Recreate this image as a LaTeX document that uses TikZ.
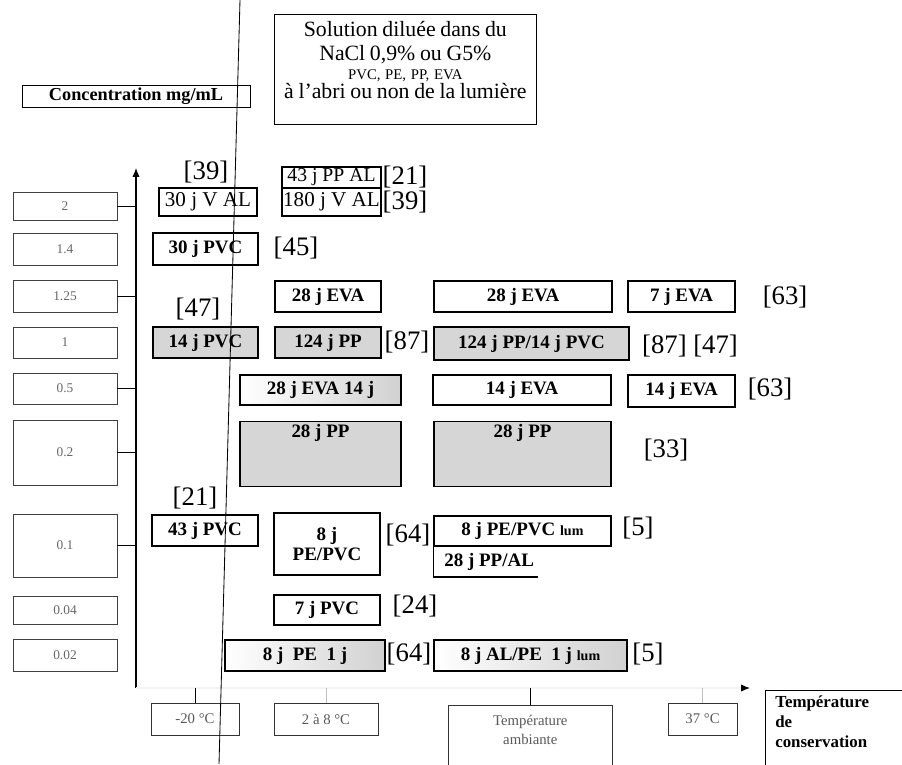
\documentclass[tikz,border=0pt]{standalone}
\usepackage{fontspec}
\setmainfont{Liberation Serif}
\usetikzlibrary{arrows.meta}

\begin{document}
\begin{tikzpicture}[x=0.025cm, y=-0.025cm,
    valbox/.style={draw=black!75, thin, inner sep=0pt, minimum width=2.6cm, text=black!60, font=\fontsize{9.5}{10}\selectfont},
    databox/.style={draw, line width=0.9pt, inner sep=0pt, font=\fontsize{13.5}{14}\selectfont\bfseries},
    plainbox/.style={databox, font=\fontsize{15}{15}\selectfont},
    shaded/.style={fill=black!16},
    halfshaded/.style={left color=white, middle color=white, right color=black!18},
    ref/.style={inner sep=0pt, font=\fontsize{19}{19}\selectfont},
    tempbox/.style={draw=black!80, thin, inner sep=0pt, text=black!65, font=\fontsize{10.5}{13.5}\selectfont},
    axis/.style={-{Latex[length=2.2mm, width=1.8mm, color=black]}, thick}
  ]
  \useasboundingbox (0,0) rectangle (902,764);
  \clip (0,0) rectangle (902,764);

  % Titles
  \node[draw, thin, minimum width=5.7cm, minimum height=0.55cm, inner sep=0pt,
        font=\fontsize{13}{13}\selectfont\bfseries] (conc) at (136,96) {Concentration mg/mL};
  \node[draw, thin, anchor=north west, text width=6.45cm, align=center, inner xsep=0.05cm,
        inner ysep=0pt, text height=0.55cm, text depth=2.2cm] (sol) at (274,14)
        {\fontsize{15.5}{17}\selectfont Solution diluée dans du\\
         NaCl 0,9\% ou G5\%\\[-3.5pt]
         {\fontsize{10.5}{11}\selectfont PVC, PE, PP, EVA}\\
         à l'abri ou non de la lumière};

  % Concentrations
  \node[valbox, minimum height=0.7cm] (c2) at (65,206) {2};
  \node[valbox, minimum height=0.8cm] (c14) at (65,249) {1.4};
  \node[valbox, minimum height=0.8cm] (c125) at (65,296) {1.25};
  \node[valbox, minimum height=0.78cm] (c1) at (65,342.5) {1};
  \node[valbox, minimum height=0.78cm] (c05) at (65,388.5) {0.5};
  \node[valbox, minimum height=1.63cm] (c02) at (65,452.5) {0.2};
  \node[valbox, minimum height=1.58cm] (c01) at (65,545.5) {0.1};
  \node[valbox, minimum height=0.7cm] (c004) at (65,610) {0.04};
  \node[valbox, minimum height=0.8cm] (c002) at (65,655) {0.02};

  % Axes
  \coordinate (ytop) at (136,168);
  \coordinate (orig) at (136,688);
  \coordinate (xend) at (750,688);
  \draw[axis] (orig) -- (ytop);
  \draw[axis, draw=black!5] (orig) -- (xend);
  \foreach \c in {c2,c125,c05,c02,c01}
    \draw (\c.east) -- (\c.east -| orig);

  % Stabilities
  \node[plainbox, minimum width=2.45cm, minimum height=0.7cm] (v30) at (208,202) {30 j V AL};
  \node[plainbox, minimum width=2.475cm, minimum height=0.525cm, font=\fontsize{14}{14}\selectfont] (ppal43) at (331.5,177.5) {43 j PP AL};
  \node[plainbox, minimum width=2.475cm, minimum height=0.7cm] (v180) at (331.5,202) {180 j V AL};
  \node[databox, minimum width=2.625cm, minimum height=0.8cm] (pvc30) at (205.5,249) {30 j PVC};
  \node[databox, minimum width=2.65cm, minimum height=0.775cm] (eva28a) at (328,296.5) {28 j EVA};
  \node[databox, minimum width=4.45cm, minimum height=0.775cm] (eva28b) at (523,296.5) {28 j EVA};
  \node[databox, minimum width=2.675cm, minimum height=0.775cm] (eva7) at (681.5,296.5) {7 j EVA};
  \node[databox, shaded, minimum width=2.625cm, minimum height=0.775cm] (pvc14) at (205.5,342.5) {14 j PVC};
  \node[databox, shaded, minimum width=2.65cm, minimum height=0.775cm] (pp124) at (328,342.5) {124 j PP};
  \node[databox, shaded, minimum width=4.875cm, minimum height=0.825cm] (mix124) at (531.5,343.5) {124 j PP/14 j PVC};
  \node[databox, halfshaded, minimum width=4.025cm, minimum height=0.75cm] (eva28c) at (320.5,390) {28 j EVA 14 j};
  \node[databox, minimum width=4.45cm, minimum height=0.75cm] (eva14a) at (522,390) {14 j EVA};
  \node[databox, minimum width=2.675cm, minimum height=0.8cm] (eva14b) at (681.5,391) {14 j EVA};
  \node[databox, shaded, anchor=north, minimum width=4.025cm, text height=0.4cm, text depth=1.225cm] (pp28a) at (320.5,421) {28 j PP};
  \node[databox, shaded, anchor=north, minimum width=4.425cm, text height=0.4cm, text depth=1.225cm] (pp28b) at (522.5,421) {28 j PP};
  \node[databox, minimum width=2.65cm, minimum height=0.775cm] (pvc43) at (205,530.5) {43 j PVC};
  \node[databox, align=center, minimum width=2.65cm, minimum height=1.55cm] (pepvc8) at (327,544) {8 j\\PE/PVC};
  \node[databox, minimum width=4.425cm, minimum height=0.75cm] (lum8) at (522.5,531) {8 j PE/PVC {\fontsize{10}{10}\selectfont lum}};
  \node[anchor=west, inner sep=0pt, font=\fontsize{13.5}{14}\selectfont\bfseries] (ppal28) at (444,562) {28 j PP/AL};
  \coordinate (ppalend) at (538,577);
  \draw[line width=0.9pt] (lum8.south west) |- (ppalend);
  \node[databox, minimum width=2.65cm, minimum height=0.75cm] (pvc7) at (327,610) {7 j PVC};
  \node[databox, halfshaded, minimum width=4cm, minimum height=0.775cm] (pe8) at (305,655.5) {8 j\ \ PE\ \ 1 j};
  \node[databox, halfshaded, minimum width=4.825cm, minimum height=0.775cm] (alpe8) at (530.5,655.5) {8 j AL/PE\ \ 1 j {\fontsize{10}{10}\selectfont lum}};

  % References
  \node[ref] (r39a) at (206,172) {[39]};
  \node[ref] (r21a) at (405,177) {[21]};
  \node[ref] (r39b) at (405,202) {[39]};
  \node[ref] (r45) at (296,248) {[45]};
  \node[ref] (r63a) at (785,297) {[63]};
  \node[ref] (r47a) at (198,309) {[47]};
  \node[ref] (r87a) at (407,342) {[87]};
  \node[ref] (r87b) at (690,346) {[87] [47]};
  \node[ref] (r63b) at (770,389) {[63]};
  \node[ref] (r33) at (666,450) {[33]};
  \node[ref] (r21b) at (195,498) {[21]};
  \node[ref] (r64a) at (408,535) {[64]};
  \node[ref] (r5a) at (638,528) {[5]};
  \node[ref] (r24) at (415,606) {[24]};
  \node[ref] (r64b) at (409,654) {[64]};
  \node[ref] (r5b) at (648,654) {[5]};

  % Temperatures
  \node[tempbox, minimum width=2.2cm, minimum height=0.8cm] (tm20) at (195,719) {-20 °C};
  \node[tempbox, minimum width=2.6cm, minimum height=0.8cm] (t28) at (326,719) {2 à 8 °C};
  \node[tempbox, anchor=north west, text width=4.1cm, align=center, text height=0.5cm, text depth=2cm] (tamb) at (448,705) {Température\\ambiante};
  \node[tempbox, minimum width=1.725cm, minimum height=0.8cm] (t37) at (702.5,719) {37 °C};
  \node[draw, thin, anchor=north west, text width=4cm, align=left, inner xsep=0.25cm, inner ysep=0pt,
        text height=0.42cm, text depth=2cm, font=\fontsize{12}{14.5}\selectfont\bfseries] (tcons) at (765,690)
        {Température\\de\\conservation};
  \draw (tm20.north) -- (tm20.north |- orig);
  \draw (tamb.north) -- (tamb.north |- orig);
  \draw[black!25] (t28.north) -- (t28.north |- orig);
  \draw[black!25] (t37.north) -- (t37.north |- orig);

  % scan line
  \draw[line width=0.6pt] (240,0) -- (219,764);
\end{tikzpicture}
\end{document}
